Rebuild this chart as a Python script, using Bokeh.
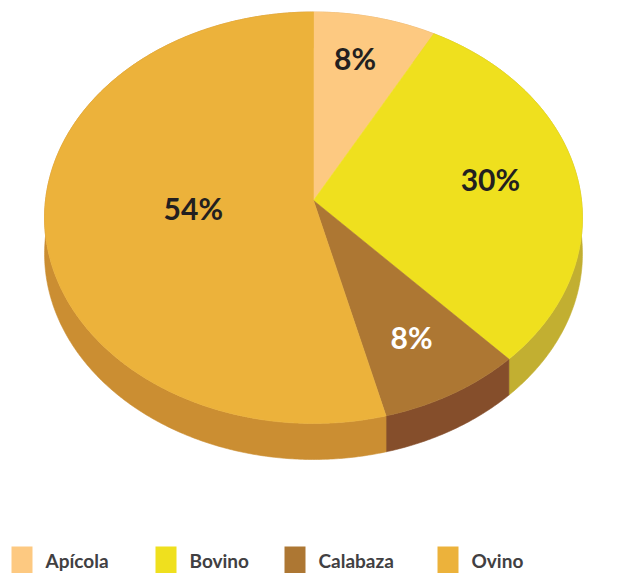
import numpy as np
from bokeh.plotting import figure
from bokeh.models import Range1d, ColumnDataSource
from bokeh.embed import file_html
from bokeh.resources import INLINE
from bokeh.core.properties import value

# ---- data ----
categories = ["Apícola", "Bovino", "Calabaza", "Ovino"]
shares = [8, 30, 8, 54]
labels = ["8%", "30%", "8%", "54%"]

# ---- styles ----
TOP_COLORS = ["#FDC981", "#EFE01E", "#AD7733", "#ECB23B"]
SIDE_COLORS = ["#D9A766", "#C2AF31", "#854E2B", "#CB8E32"]
LABEL_COLORS = ["#231F20", "#231F20", "#FFFFFF", "#231F20"]
LABEL_R = [0.74, 0.67, 0.74, 0.45]
LABEL_DX = [-5, 0, -3, 0]
LABEL_DY = -4
LEGEND_X = [11, 155, 284, 437]

# ---- geometry (pixel-space, perspective-projected disc) ----
CX, CY, A, B, K, DEPTH = 313.0, 200.0, 268.0, 204.3, 0.0838, 36.0


def project(r, t):
    tr = np.radians(t)
    s, c = np.sin(tr), np.cos(tr)
    d = 1 + K * r * s
    return CX + A * r * c / d, CY - B * r * s / d


total = float(sum(shares))
starts, ends = [], []
acc = 0.0
for v in shares:
    starts.append(90 - 360 * acc / total)
    acc += v
    ends.append(90 - 360 * acc / total)

top_xs, top_ys, side_xs, side_ys = [], [], [], []
lab_x, lab_y = [], []
for i, (t0, t1) in enumerate(zip(starts, ends)):
    n = max(int(abs(t1 - t0) * 2), 8)
    ts = np.linspace(t0, t1, n)
    ax, ay = project(1.0, ts)
    top_xs.append([CX] + list(ax))
    top_ys.append([CY] + list(ay))
    side_xs.append(list(ax) + list(ax[::-1]))
    side_ys.append(list(ay) + list((ay + DEPTH)[::-1]))
    mx, my = project(LABEL_R[i], (t0 + t1) / 2)
    lab_x.append(float(mx) + LABEL_DX[i])
    lab_y.append(float(my) + LABEL_DY)

p = figure(width=642, height=573, x_range=Range1d(0, 642), y_range=Range1d(573, 0),
           output_backend="svg", toolbar_location=None, min_border=0)
p.axis.visible = False
p.grid.visible = False
p.outline_line_color = None
p.background_fill_color = "white"
p.border_fill_color = "white"

p.patches(xs="xs", ys="ys", fill_color="c", line_color="c", line_width=0.6,
          source=ColumnDataSource(dict(xs=side_xs, ys=side_ys, c=SIDE_COLORS)))
p.patches(xs="xs", ys="ys", fill_color="c", line_color="c", line_width=0.6,
          source=ColumnDataSource(dict(xs=top_xs, ys=top_ys, c=TOP_COLORS)))

p.text(x="x", y="y", text="t", text_color="c",
       source=ColumnDataSource(dict(x=lab_x, y=lab_y, t=labels, c=LABEL_COLORS)),
       text_font=value("Lato"), text_font_style="bold", text_font_size="30px",
       text_align="center", text_baseline="middle")

# legend
lx = [float(v) for v in LEGEND_X]
p.quad(left=lx, right=[v + 21 for v in lx], top=[546] * 4, bottom=[573] * 4,
       fill_color=TOP_COLORS, line_color=None)
p.text(x=[v + 34 for v in lx], y=[559.5] * 4, text=categories,
       text_font=value("Lato"), text_font_style="bold", text_font_size="19px",
       text_color="#414042", text_align="left", text_baseline="middle")

open("out.html", "w").write(file_html(p, INLINE))
